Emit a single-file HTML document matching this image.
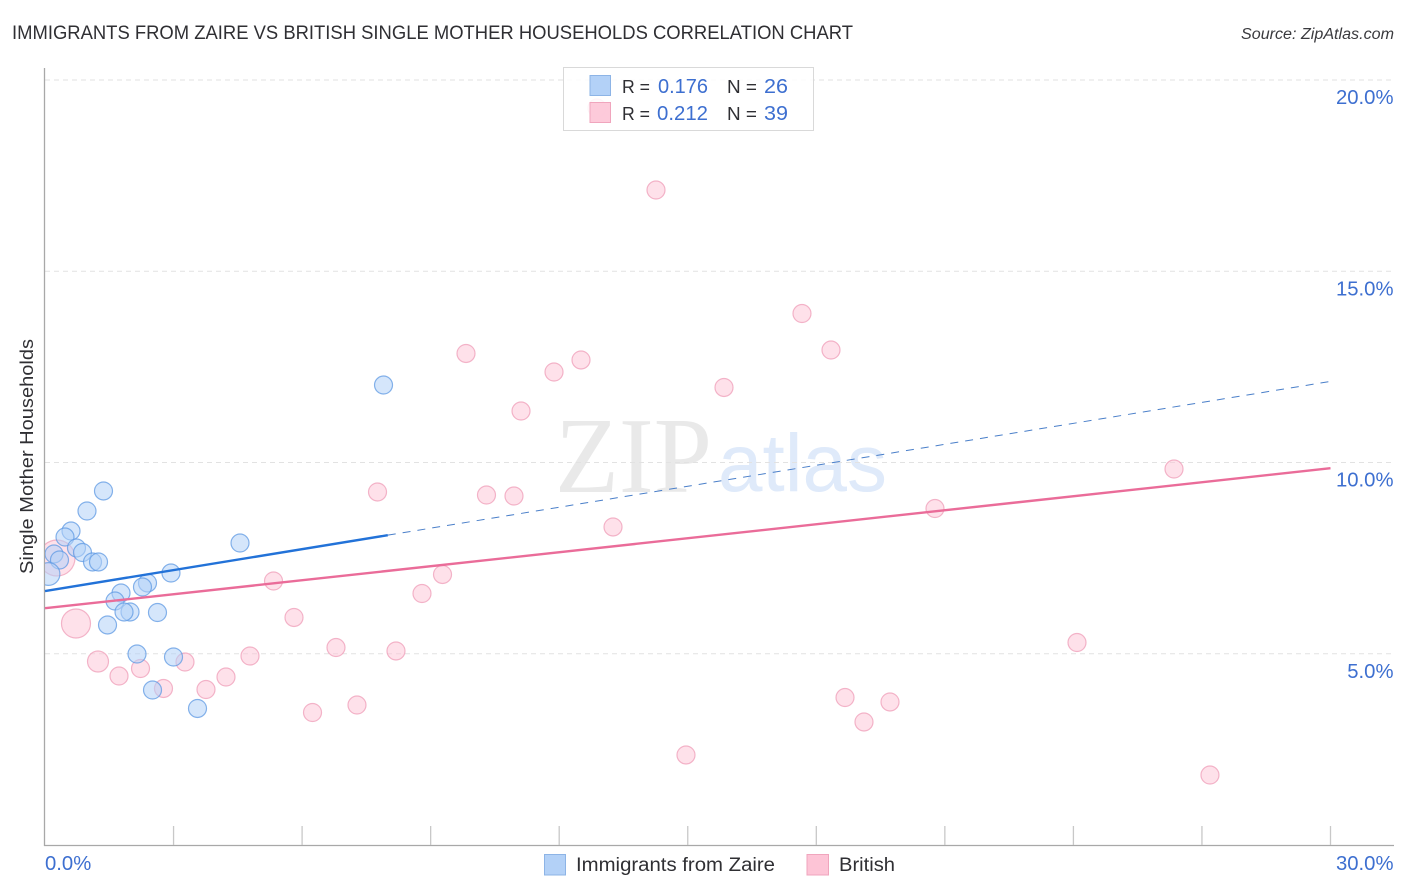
<!DOCTYPE html>
<html lang="en">
<head>
<meta charset="utf-8">
<title>Immigrants from Zaire vs British Single Mother Households Correlation Chart</title>
<style>
html,body{margin:0;padding:0;background:#fff;}
svg{display:block;font-family:"Liberation Sans",sans-serif;}
</style>
</head>
<body>
<svg id="chart" width="1406" height="892" viewBox="0 0 1406 892" xmlns="http://www.w3.org/2000/svg">
  <defs>
    <clipPath id="plot-clip"><rect x="45" y="60" width="1349" height="785"/></clipPath>
  </defs>
  <rect x="0" y="0" width="1406" height="892" fill="#ffffff"/>
  <text x="12" y="39" font-size="19" fill="#2f2f33" textLength="841" lengthAdjust="spacingAndGlyphs">IMMIGRANTS FROM ZAIRE VS BRITISH SINGLE MOTHER HOUSEHOLDS CORRELATION CHART</text>
  <text x="1241" y="39" font-size="15.500" font-style="italic" fill="#3a3a3e" textLength="153" lengthAdjust="spacingAndGlyphs">Source: ZipAtlas.com</text>
  <g>
    <text x="555" y="492" font-family="'Liberation Serif',serif" font-size="108" fill="#e9e9e9" textLength="157" lengthAdjust="spacingAndGlyphs">ZIP</text>
    <text x="718" y="491" font-size="82" fill="#dfeafa" textLength="169" lengthAdjust="spacingAndGlyphs">atlas</text>
  </g>
  <g id="grid"></g>
  <g id="axes"></g>
  <g id="points" clip-path="url(#plot-clip)"></g>
  <g id="trends"></g>
  <g id="ylabels"></g>
  <g id="xlabels"></g>
  <text x="0" y="0" transform="translate(33,456.5) rotate(-90)" font-size="18.5" fill="#2f2f33" text-anchor="middle" textLength="235" lengthAdjust="spacingAndGlyphs">Single Mother Households</text>

  <g>
    <rect x="563.5" y="67.5" width="250" height="63" fill="#ffffff" fill-opacity="0.86" stroke="#d9d9d9" stroke-width="1"/>
    <rect x="590" y="75.500" width="20.500" height="20" fill="#b3d1f7" stroke="#8db4e6" stroke-width="1"/>
    <rect x="590" y="102.500" width="20.500" height="20" fill="#fdc4d6" fill-opacity="0.9" stroke="#f0a5bd" stroke-width="1"/>
    <text x="622" y="93" font-size="18.500" fill="#2f2f33" textLength="28" lengthAdjust="spacingAndGlyphs">R =</text>
    <text x="658" y="93" font-size="20.500" fill="#3d6fd0" textLength="50" lengthAdjust="spacingAndGlyphs">0.176</text>
    <text x="727" y="93" font-size="18.500" fill="#2f2f33" textLength="30" lengthAdjust="spacingAndGlyphs">N =</text>
    <text x="764" y="93" font-size="20.500" fill="#3d6fd0" textLength="24" lengthAdjust="spacingAndGlyphs">26</text>
    <text x="622" y="120" font-size="18.500" fill="#2f2f33" textLength="28" lengthAdjust="spacingAndGlyphs">R =</text>
    <text x="657" y="120" font-size="20.500" fill="#3d6fd0" textLength="51" lengthAdjust="spacingAndGlyphs">0.212</text>
    <text x="727" y="120" font-size="18.500" fill="#2f2f33" textLength="30" lengthAdjust="spacingAndGlyphs">N =</text>
    <text x="764" y="120" font-size="20.500" fill="#3d6fd0" textLength="24" lengthAdjust="spacingAndGlyphs">39</text>
  </g>

  <g>
    <g>
      <rect x="544.500" y="854.500" width="21" height="20.500" fill="#b3d1f7" stroke="#8db4e6" stroke-width="1"/>
      <text x="576" y="871" font-size="19" fill="#2f2f33" textLength="199" lengthAdjust="spacingAndGlyphs">Immigrants from Zaire</text>
    </g>
    <g>
      <rect x="807" y="854.500" width="21.500" height="20.500" fill="#fdc4d6" stroke="#f0a5bd" stroke-width="1"/>
      <text x="839" y="871" font-size="19" fill="#2f2f33" textLength="56" lengthAdjust="spacingAndGlyphs">British</text>
    </g>
  </g>
</svg>
<script>
// ---- chart data (percent values) ----
const zaireX = [1.365,0.98,0.607,0.467,0.735,0.875,1.109,1.249,0.21,0.338,0.082,2.94,4.551,2.392,2.275,1.774,1.634,1.984,1.844,2.625,1.459,2.147,2.999,2.509,3.559,7.9];
const zaireY = [9.255,8.732,8.209,8.052,7.765,7.647,7.399,7.399,7.608,7.451,7.085,7.111,7.895,6.85,6.745,6.588,6.379,6.092,6.092,6.078,5.752,4.993,4.915,4.052,3.569,12.026];
const zaireWeight = [1,1,1,1,1,1,1,1,1,1,1.6,1,1,1,1,1,1,1,1,1,1,1,1,1,1,1];

const britishX = [0.28,0.723,1.237,1.727,2.229,2.765,3.267,3.757,4.224,4.784,5.333,5.811,6.243,6.791,7.281,7.76,8.191,8.798,9.277,9.825,10.303,10.945,11.109,11.879,12.509,13.256,14.259,14.959,15.846,17.666,18.343,18.67,19.113,19.72,20.77,24.084,26.348,27.187,12.882];
const britishY = [7.503,5.791,4.797,4.418,4.614,4.092,4.784,4.065,4.392,4.941,6.902,5.948,3.464,5.163,3.66,9.229,5.072,6.575,7.072,12.85,9.15,9.124,11.346,12.366,12.68,8.314,17.124,2.353,11.961,13.895,12.941,3.856,3.216,3.739,8.797,5.294,9.83,1.83,19.268];
const britishWeight = [4,2.6,1.36,1,1,1,1,1,1,1,1,1,1,1,1,1,1,1,1,1,1,1,1,1,1,1,1,1,1,1,1,1,1,1,1,1,1,1,1];

const zaireSolidX = [0,8.0];
const zaireSolidY = [6.64,8.1];
const zaireDashX = [8.0,30];
const zaireDashY = [8.1,12.12];
const britishTrendX = [0,30];
const britishTrendY = [6.19,9.85];

const yTickValues = [5,10,15,20];
const yTickLabels = ["5.0%","10.0%","15.0%","20.0%"];
const xTickValues = [0,3,6,9,12,15,18,21,24,27,30];
const xEdgeValues = [0,30];
const xEdgeLabels = ["0.0%","30.0%"];

// ---- axis functions ----
const NS = "http://www.w3.org/2000/svg";
function xScale(v){ return 45 + v * 42.85; }
function yScale(v){ return 845 - v * 38.25; }
function radius(w){ return 9 * Math.sqrt(w); }
function make(tag, attrs, parent){
  const el = document.createElementNS(NS, tag);
  for (const k in attrs) el.setAttribute(k, attrs[k]);
  parent.appendChild(el);
  return el;
}

// gridlines and y tick labels
const gridG = document.getElementById("grid");
const yLabelG = document.getElementById("ylabels");
yTickValues.forEach(function(v, i){
  const line = make("line", {x1:45, x2:1394, y1:yScale(v), y2:yScale(v), stroke:"#e2e2e2", "stroke-width":1, "stroke-dasharray":"5 4"}, gridG);
  
  
  const t = make("text", {x:1393.5, y:yScale(v)+24, "font-size":20.3, fill:"#3d6fd0", "text-anchor":"end"}, yLabelG);
  t.textContent = yTickLabels[i];
  
  
});

// axes and x ticks
const axesG = document.getElementById("axes");
const yAxisLine = make("line", {x1:44.5, x2:44.5, y1:68, y2:846, stroke:"#a8a8a8", "stroke-width":1.3}, axesG);


const xAxisLine = make("line", {x1:44, x2:1394, y1:845.5, y2:845.5, stroke:"#a8a8a8", "stroke-width":1.3}, axesG);


xTickValues.slice(1).forEach(function(v){
  const tick = make("line", {x1:xScale(v), x2:xScale(v), y1:826, y2:845, stroke:"#c8c8c8", "stroke-width":1.3}, axesG);
  
  
});

// x edge labels
const xLabelG = document.getElementById("xlabels");
xEdgeValues.forEach(function(v, i){
  const anchor = i === 0 ? "start" : "end";
  const px = i === 0 ? xScale(v) : 1393.5;
  const t = make("text", {x:px, y:870, "font-size":20.3, fill:"#3d6fd0", "text-anchor":anchor}, xLabelG);
  t.textContent = xEdgeLabels[i];
  
  
});

// points
const pointsG = document.getElementById("points");
britishX.forEach(function(v, i){
  const c = make("circle", {cx:xScale(v), cy:yScale(britishY[i]), r:radius(britishWeight[i]), fill:"#fdc4d6", "fill-opacity":0.5, stroke:"#ef9db8", "stroke-opacity":0.75, "stroke-width":1.2}, pointsG);
  
  
});
zaireX.forEach(function(v, i){
  const c = make("circle", {cx:xScale(v), cy:yScale(zaireY[i]), r:radius(zaireWeight[i]), fill:"#b3d1f7", "fill-opacity":0.55, stroke:"#5f99e3", "stroke-opacity":0.75, "stroke-width":1.2}, pointsG);
  
  
});

// trend lines
const trendG = document.getElementById("trends");
const dashLine = make("line", {x1:xScale(zaireDashX[0]), y1:yScale(zaireDashY[0]), x2:xScale(zaireDashX[1]), y2:yScale(zaireDashY[1]), stroke:"#4a7fc9", "stroke-width":1, "stroke-dasharray":"8 7"}, trendG);


const solidLine = make("line", {x1:xScale(zaireSolidX[0]), y1:yScale(zaireSolidY[0]), x2:xScale(zaireSolidX[1]), y2:yScale(zaireSolidY[1]), stroke:"#2272d8", "stroke-width":2.4}, trendG);


const pinkLine = make("line", {x1:xScale(britishTrendX[0]), y1:yScale(britishTrendY[0]), x2:xScale(britishTrendX[1]), y2:yScale(britishTrendY[1]), stroke:"#ea6c99", "stroke-width":2.4}, trendG);


</script>
</body>
</html>
